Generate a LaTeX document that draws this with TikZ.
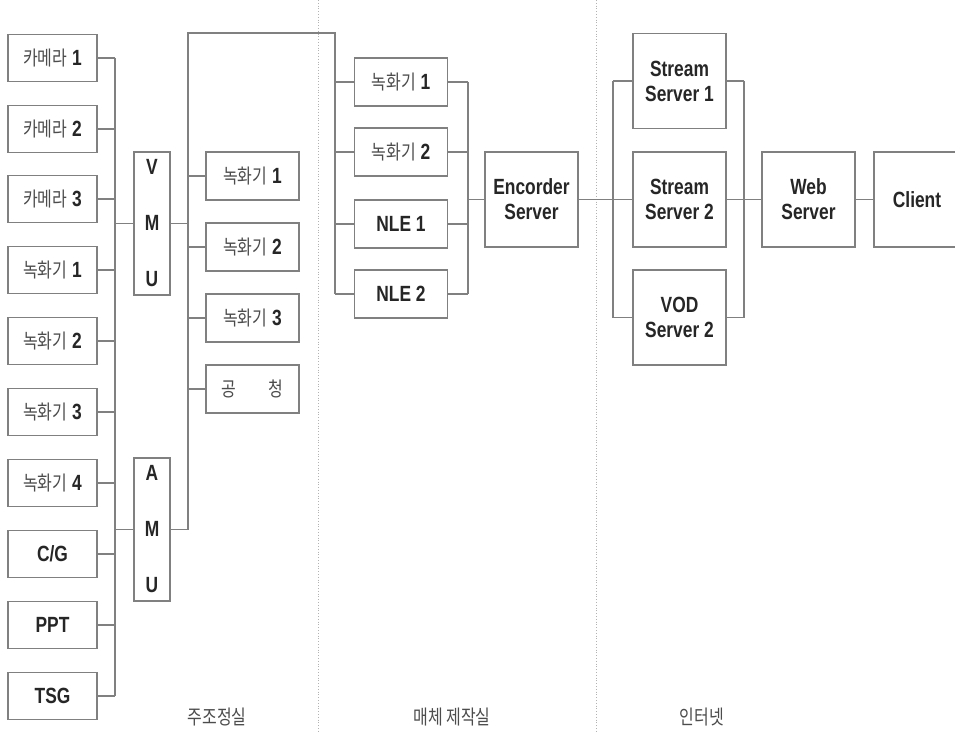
\documentclass[tikz,border=0pt]{standalone}
\usepackage{fontspec}
\setmainfont{Liberation Sans}[FakeStretch=0.79]
\newfontfamily\kr{Noto Sans CJK KR}[FakeStretch=0.8]
\newcommand{\kor}[1]{{\kr\mdseries\fontsize{20}{24}\selectfont\color{black!70}#1}}
\begin{document}
\begin{tikzpicture}[x=1pt,y=-1pt,
  box/.style={draw=black!50,line width=1.1pt,rectangle,inner sep=0pt,
    font=\fontsize{22}{25}\selectfont\bfseries,text=black!85,align=center},
  lbox/.style={box,minimum width=89pt,minimum height=47pt},
  mbox/.style={box,minimum width=93pt,minimum height=48pt},
  sbox/.style={box,minimum width=93pt,minimum height=95pt},
  ubox/.style={box,minimum width=36pt,minimum height=143pt,
    font=\fontsize{22}{56}\selectfont\bfseries},
  wire/.style={draw=black!50,line width=1.1pt},
  sep/.style={draw=black!30,line width=0.8pt,dotted},
  lab/.style={font=\kr\fontsize{20}{24}\selectfont,text=black!70}]
\clip (0,0) rectangle (955,733);
\fill[white] (0,0) rectangle (955,733);
% separators
\coordinate (s1t) at (318,0); \coordinate (s1b) at (318,733);
\coordinate (s2t) at (596,0); \coordinate (s2b) at (596,733);
\draw[sep] (s1t) -- (s1b);
\draw[sep] (s2t) -- (s2b);
% left column
\node[lbox] (c1) at (52.5,58) {\kor{카메라} 1};
\node[lbox] (c2) at (52.5,129) {\kor{카메라} 2};
\node[lbox] (c3) at (52.5,199) {\kor{카메라} 3};
\node[lbox] (l1) at (52.5,270) {\kor{녹화기} 1};
\node[lbox] (l2) at (52.5,341) {\kor{녹화기} 2};
\node[lbox] (l3) at (52.5,412) {\kor{녹화기} 3};
\node[lbox] (l4) at (52.5,483) {\kor{녹화기} 4};
\node[lbox] (cg) at (52.5,554) {C/G};
\node[lbox] (ppt) at (52.5,625) {PPT};
\node[lbox] (tsg) at (52.5,696) {TSG};
% VMU / AMU
\node[ubox] (vmu) at (152,223.5) {V\\M\\U};
\node[ubox] (amu) at (152,529.5) {A\\M\\U};
% left bus
\coordinate (lb) at (115,0);
\foreach \n in {c1,c2,c3,l1,l2,l3,l4,cg,ppt,tsg}{\draw[wire] (\n.east) -- (\n.east -| lb);}
\draw[wire] (c1.east -| lb) -- (tsg.east -| lb);
\draw[wire] (vmu.west) -- (vmu.west -| lb);
\draw[wire] (amu.west) -- (amu.west -| lb);
% middle column
\node[mbox] (r1) at (252.5,176) {\kor{녹화기} 1};
\node[mbox] (r2) at (252.5,247) {\kor{녹화기} 2};
\node[mbox] (r3) at (252.5,318) {\kor{녹화기} 3};
\node[mbox] (gc) at (252.5,389) {\kor{공\hspace{1.6em}청}};
\coordinate (mbt) at (188,33);
\coordinate (mct) at (335,33);
\draw[wire] (vmu.east) -- (vmu.east -| mbt);
\draw[wire] (amu.east) -- (amu.east -| mbt);
\foreach \n in {r1,r2,r3,gc}{\draw[wire] (\n.west) -- (\n.west -| mbt);}
% media column
\node[mbox] (p1) at (401,82) {\kor{녹화기} 1};
\node[mbox] (p2) at (401,152) {\kor{녹화기} 2};
\node[mbox] (n1) at (401,224) {NLE 1};
\node[mbox] (n2) at (401,294) {NLE 2};
\draw[wire] (amu.east -| mbt) -- (mbt) -- (mct) -- (n2.west -| mct);
\foreach \n in {p1,p2,n1,n2}{\draw[wire] (\n.west) -- (\n.west -| mct);}
\node[sbox] (enc) at (531.5,199.5) {Encorder\\Server};
\coordinate (rb) at (468,0);
\foreach \n in {p1,p2,n1,n2}{\draw[wire] (\n.east) -- (\n.east -| rb);}
\draw[wire] (p1.east -| rb) -- (n2.east -| rb);
\draw[wire] (enc.west) -- (enc.west -| rb);
% servers
\node[sbox] (ss1) at (679.5,81) {Stream\\Server 1};
\node[sbox] (ss2) at (679.5,199.5) {Stream\\Server 2};
\node[sbox] (vod) at (679.5,317.5) {VOD\\Server 2};
\coordinate (eb) at (613,0);
\coordinate (wb) at (744,0);
\draw[wire] (enc.east) -- (enc.east -| eb);
\foreach \n in {ss1,ss2,vod}{\draw[wire] (\n.west) -- (\n.west -| eb); \draw[wire] (\n.east) -- (\n.east -| wb);}
\draw[wire] (ss1.west -| eb) -- (vod.west -| eb);
\draw[wire] (ss1.east -| wb) -- (vod.east -| wb);
\node[sbox] (web) at (808.5,199.5) {Web\\Server};
\draw[wire] (ss2.east -| wb) -- (web.west);
\node[sbox,minimum width=86pt] (cli) at (917,199.5) {Client};
\draw[wire] (web.east) -- (cli.west);
% bottom labels
\node[lab] (t1) at (217,717) {주조정실};
\node[lab] (t2) at (452,717) {매체 제작실};
\node[lab] (t3) at (702,717) {인터넷};
\end{tikzpicture}
\end{document}
